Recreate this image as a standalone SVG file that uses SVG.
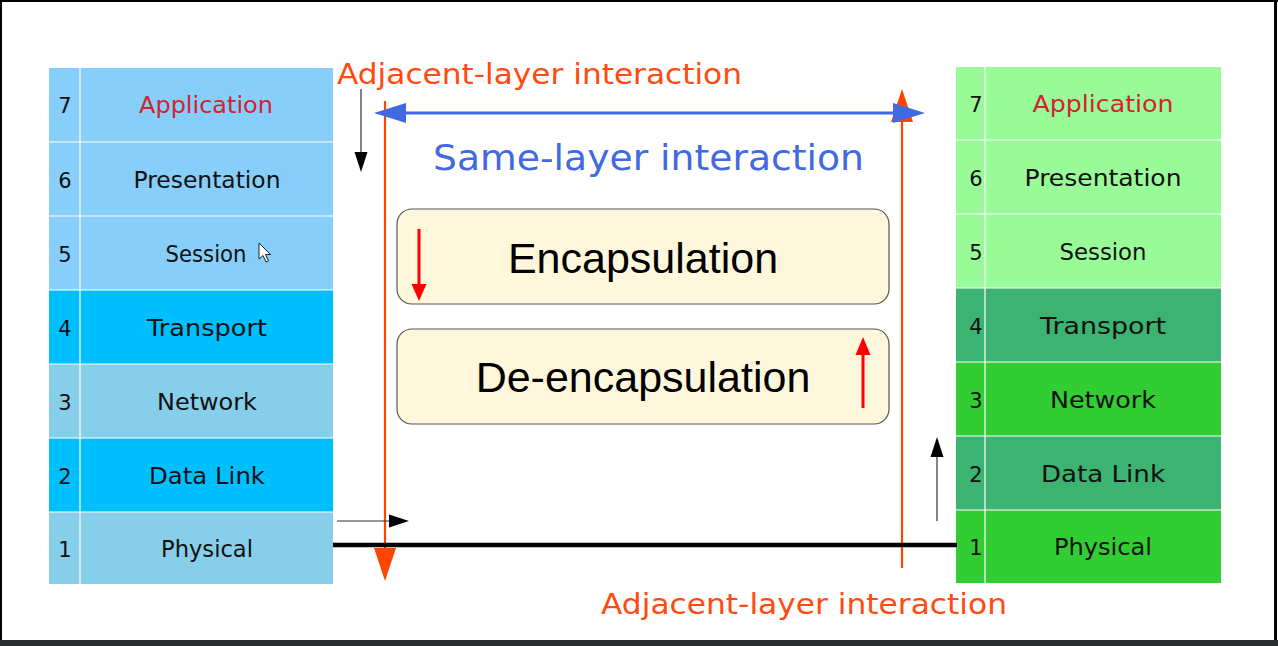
<svg xmlns="http://www.w3.org/2000/svg" width="1278" height="646" viewBox="0 0 1278 646">
<defs>
<style>
.hw{font-family:"DejaVu Sans","Noto Sans",sans-serif;}
.lbl{font-size:23px;fill:#111;text-anchor:middle;}
.num{font-size:21px;fill:#111;text-anchor:middle;}
.app{fill:#D42232;}
.div{stroke:#ffffff;stroke-width:1.2;}
.box{fill:#FFF7DC;stroke:#555;stroke-width:1.2;}
.big{font-family:"Liberation Sans",Arial,sans-serif;font-size:43px;fill:#000;text-anchor:middle;}
.thin{stroke:#333;stroke-width:1.2;fill:none;}
</style>
</defs>
<rect x="0" y="0" width="1278" height="646" fill="#fff"/>
<rect x="0" y="0" width="1278" height="2" fill="#000"/>
<rect x="0" y="0" width="2" height="642" fill="#000"/>
<rect x="1274" y="0" width="3" height="642" fill="#000"/>
<rect x="0" y="640" width="1278" height="6" fill="#2a2c2e"/>

<g id="left-stack">
<rect x="49" y="68" width="284" height="74" fill="#87CEFA"/>
<rect x="49" y="142" width="284" height="74" fill="#87CEFA"/>
<rect x="49" y="216" width="284" height="74" fill="#87CEFA"/>
<rect x="49" y="290" width="284" height="74" fill="#00BFFF"/>
<rect x="49" y="364" width="284" height="74" fill="#87CEEB"/>
<rect x="49" y="438" width="284" height="74" fill="#00BFFF"/>
<rect x="49" y="512" width="284" height="72" fill="#87CEEB"/>
<line class="div" x1="80" y1="68" x2="80" y2="584"/>
<line class="div" x1="49" y1="142" x2="333" y2="142"/>
<line class="div" x1="49" y1="216" x2="333" y2="216"/>
<line class="div" x1="49" y1="290" x2="333" y2="290"/>
<line class="div" x1="49" y1="364" x2="333" y2="364"/>
<line class="div" x1="49" y1="438" x2="333" y2="438"/>
<line class="div" x1="49" y1="512" x2="333" y2="512"/>
<g class="hw">
<text class="num" x="65" y="113">7</text>
<text class="num" x="65" y="188">6</text>
<text class="num" x="65" y="262">5</text>
<text class="num" x="65" y="336">4</text>
<text class="num" x="65" y="410">3</text>
<text class="num" x="65" y="484">2</text>
<text class="num" x="65" y="557">1</text>
<text class="lbl app" x="206" y="113" textLength="134" lengthAdjust="spacingAndGlyphs">Application</text>
<text class="lbl" x="207" y="188" textLength="147" lengthAdjust="spacingAndGlyphs">Presentation</text>
<text class="lbl" x="206" y="262" textLength="81" lengthAdjust="spacingAndGlyphs">Session</text>
<text class="lbl" x="207" y="336" textLength="120" lengthAdjust="spacingAndGlyphs">Transport</text>
<text class="lbl" x="207" y="410" textLength="100" lengthAdjust="spacingAndGlyphs">Network</text>
<text class="lbl" x="207" y="484" textLength="116" lengthAdjust="spacingAndGlyphs">Data Link</text>
<text class="lbl" x="207" y="557" textLength="92" lengthAdjust="spacingAndGlyphs">Physical</text>
</g>
<path d="M259,243 L259,259 L263,255.5 L266,262 L268.5,261 L265.5,254.5 L270.5,254.5 Z" fill="#fff" stroke="#222" stroke-width="1"/>
</g>

<g id="right-stack">
<rect x="956" y="67" width="265" height="73" fill="#98FB98"/>
<rect x="956" y="140" width="265" height="74" fill="#98FB98"/>
<rect x="956" y="214" width="265" height="74" fill="#98FB98"/>
<rect x="956" y="288" width="265" height="74" fill="#3CB371"/>
<rect x="956" y="362" width="265" height="74" fill="#32CD32"/>
<rect x="956" y="436" width="265" height="74" fill="#3CB371"/>
<rect x="956" y="510" width="265" height="73" fill="#32CD32"/>
<line class="div" x1="985" y1="67" x2="985" y2="583"/>
<line class="div" x1="956" y1="140" x2="1221" y2="140"/>
<line class="div" x1="956" y1="214" x2="1221" y2="214"/>
<line class="div" x1="956" y1="288" x2="1221" y2="288"/>
<line class="div" x1="956" y1="362" x2="1221" y2="362"/>
<line class="div" x1="956" y1="436" x2="1221" y2="436"/>
<line class="div" x1="956" y1="510" x2="1221" y2="510"/>
<g class="hw">
<text class="num" x="976" y="112">7</text>
<text class="num" x="976" y="186">6</text>
<text class="num" x="976" y="260">5</text>
<text class="num" x="976" y="334">4</text>
<text class="num" x="976" y="408">3</text>
<text class="num" x="976" y="482">2</text>
<text class="num" x="976" y="555">1</text>
<text class="lbl app" x="1103" y="112" textLength="141" lengthAdjust="spacingAndGlyphs">Application</text>
<text class="lbl" x="1103" y="186" textLength="157" lengthAdjust="spacingAndGlyphs">Presentation</text>
<text class="lbl" x="1103" y="260" textLength="87" lengthAdjust="spacingAndGlyphs">Session</text>
<text class="lbl" x="1103" y="334" textLength="126" lengthAdjust="spacingAndGlyphs">Transport</text>
<text class="lbl" x="1103" y="408" textLength="106" lengthAdjust="spacingAndGlyphs">Network</text>
<text class="lbl" x="1103" y="482" textLength="124" lengthAdjust="spacingAndGlyphs">Data Link</text>
<text class="lbl" x="1103" y="555" textLength="98" lengthAdjust="spacingAndGlyphs">Physical</text>
</g>
</g>

<g id="encapsulation">
<rect class="box" x="397" y="209" width="492" height="95" rx="15"/>
<text class="big" x="643" y="273">Encapsulation</text>
<line x1="419" y1="229" x2="419" y2="286" stroke="#FF0000" stroke-width="3"/>
<polygon points="411.5,284 426.5,284 419,301" fill="#FF0000"/>
</g>

<g id="de-encapsulation">
<rect class="box" x="397" y="329" width="492" height="95" rx="15"/>
<text class="big" x="643" y="392">De-encapsulation</text>
<line x1="863" y1="408" x2="863" y2="352" stroke="#FF0000" stroke-width="3"/>
<polygon points="855.5,355 870.5,355 863,337" fill="#FF0000"/>
</g>

<g id="labels" class="hw">
<text x="337" y="84" font-size="29" fill="#FF4A10" textLength="405" lengthAdjust="spacingAndGlyphs">Adjacent-layer interaction</text>
<text x="433" y="170" font-size="36" fill="#4169E1" textLength="431" lengthAdjust="spacingAndGlyphs">Same-layer interaction</text>
<text x="601" y="614" font-size="29" fill="#FF4A10" textLength="406" lengthAdjust="spacingAndGlyphs">Adjacent-layer interaction</text>
</g>

<g id="connectors">
<line x1="385" y1="101" x2="385" y2="552" stroke="#FF4500" stroke-width="2.2"/>
<polygon points="374,548 396,548 385,581" fill="#FF4500"/>
<line x1="902" y1="568" x2="902" y2="115" stroke="#FF4500" stroke-width="2.2"/>
<polygon points="891,122 913,122 902,89" fill="#FF4500"/>
<line x1="403" y1="113" x2="896" y2="113" stroke="#4169E1" stroke-width="3"/>
<polygon points="374,113 406,103 406,123" fill="#4169E1"/>
<polygon points="925,113 893,103 893,123" fill="#4169E1"/>
<line class="thin" x1="361" y1="89" x2="361" y2="154"/>
<polygon points="354.5,152 367.5,152 361,172" fill="#000"/>
<line class="thin" x1="337" y1="521" x2="391" y2="521"/>
<polygon points="389,514.5 389,527.5 409,521" fill="#000"/>
<line class="thin" x1="937" y1="521" x2="937" y2="455"/>
<polygon points="930.5,457 943.5,457 937,437" fill="#000"/>
<line x1="333" y1="545" x2="957" y2="545" stroke="#000" stroke-width="4.5"/>
</g>
</svg>
